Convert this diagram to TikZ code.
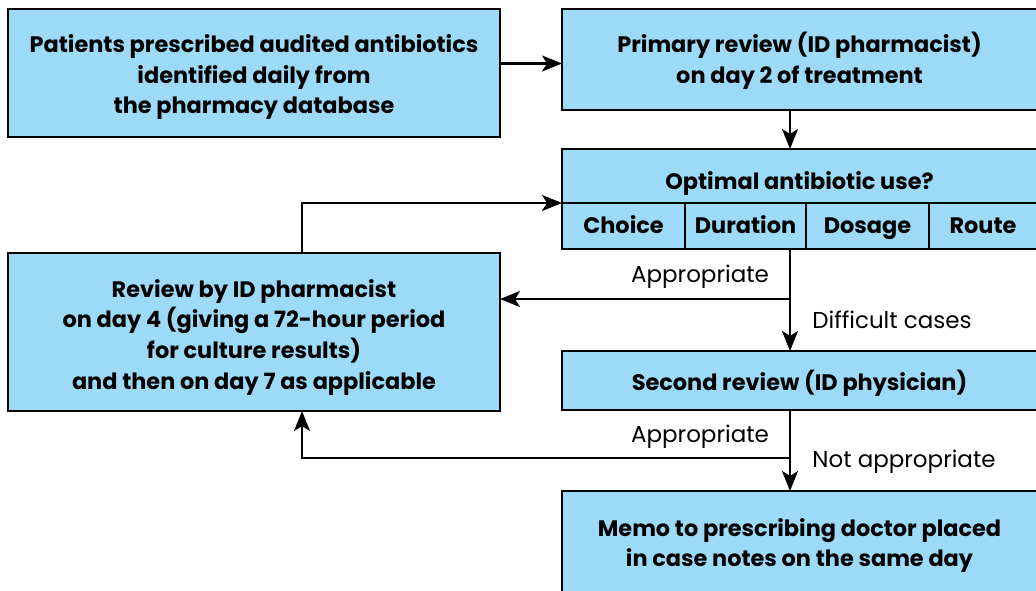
\documentclass[tikz,border=0pt]{standalone}
\usepackage{fontspec}
\setmainfont{Poppins}
\usetikzlibrary{positioning, arrows.meta}
\definecolor{boxblue}{HTML}{9CDAF7}
\tikzstyle{block} = [rectangle, draw, line width=1.2pt, fill=boxblue, align=center,
outer sep=0pt, inner sep=0pt, font=\bfseries\fontsize{11.2}{15.3}\selectfont]
\tikzstyle{cell} = [block, minimum height=23pt, text height=10pt, text depth=2.5pt]
\tikzstyle{lbl} = [font=\fontsize{11.5}{13}\selectfont]
\tikzstyle{arrow} = [line width=1.1pt,-{Stealth[length=10pt,width=8pt,inset=2.5pt]}]

\begin{document}
\begin{tikzpicture}[x=0.5pt,y=-0.5pt]
    \useasboundingbox (0,0) rectangle (1036,590);
    \clip (0,0) rectangle (1036,590);
    \coordinate (spine) at (790,0);
    \coordinate (back) at (302,0);
    \node (1) [block, minimum width=246pt, minimum height=64pt, text height=40.9pt, text depth=0pt] at (254,73) {Patients prescribed audited antibiotics\\identified daily from\\the pharmacy database};
    \node (2) [block, minimum width=237.5pt, minimum height=50.5pt, text depth=1.5pt] at (799.5,59.5) {Primary review (ID pharmacist)\\on day 2 of treatment};
    \node (3) [block, minimum width=237.5pt, minimum height=27pt, text height=16.3pt] at (799.5,176) {Optimal antibiotic use?};
    \node (3a) [cell, minimum width=61.5pt, anchor=north west] at (3.south west) {Choice};
    \node (3b) [cell, minimum width=60.5pt, right=0pt of 3a] {Duration};
    \node (3c) [cell, minimum width=61.5pt, right=0pt of 3b] {Dosage};
    \node (3d) [cell, minimum width=54pt, right=0pt of 3c] {Route};
    \node (4) [block, minimum width=246pt, minimum height=79pt, text height=57pt, text depth=0pt] at (254,332) {Review by ID pharmacist\\on day 4 (giving a 72-hour period\\for culture results)\\and then on day 7 as applicable};
    \node (5) [block, minimum width=237.5pt, minimum height=29.5pt, text height=12.5pt] at (799.5,380.5) {Second review (ID physician)};
    \node (6) [block, minimum width=237.5pt, minimum height=51.5pt, text depth=0pt] at (799.5,542.5) {Memo to prescribing doctor placed\\in case notes on the same day};
    \coordinate (b1) at (790,299);
    \coordinate (b2) at (790,458);
    \draw [arrow] ([yshift=-2pt]1.east |- 2.west) -- ([yshift=-2pt]2.west);
    \draw [arrow] (2.south -| spine) -- (3.north -| spine);
    \draw [arrow] (4.north -| back) |- (3.south west);
    \draw [arrow] (3b.south -| spine) -- (5.north -| spine);
    \draw [arrow] (b1) -- (4.east |- b1);
    \draw [arrow] (5.south -| spine) -- (6.north -| spine);
    \draw [arrow] (b2) -| (4.south -| back);
    \node (l1) [lbl] at (700,277) {Appropriate};
    \node (l2) [lbl] at (892,320) {Difficult cases};
    \node (l3) [lbl] at (700,437) {Appropriate};
    \node (l4) [lbl] at (904,462) {Not appropriate};
\end{tikzpicture}
\end{document}
